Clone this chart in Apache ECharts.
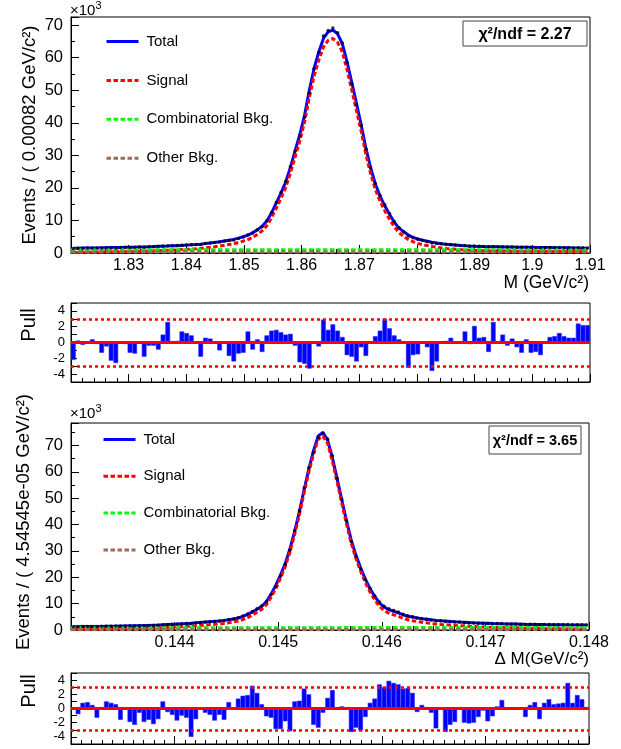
<!DOCTYPE html>
<html><head><meta charset="utf-8">
<script src="https://cdn.jsdelivr.net/npm/echarts@6/dist/echarts.min.js"></script>
<style>html,body{margin:0;padding:0;background:#fff}#main{width:621px;height:749px}</style>
</head><body><div id="main"></div>
<script>
// ---------- binning ----------
const M_LO = 1.82, M_HI = 1.91;
const D_LO = 0.143, D_HI = 0.148;
const N_BINS = 110;

// ---------- top panel: M (values in units of 10^3 events) ----------
const mTotal = [1.45,1.47,1.50,1.52,1.55,1.57,1.60,1.63,1.66,1.68,
 1.70,1.73,1.76,1.80,1.84,1.87,1.91,1.97,2.04,2.09,
 2.14,2.20,2.26,2.34,2.42,2.51,2.59,2.72,2.90,3.06,
 3.26,3.46,3.68,3.93,4.17,4.56,5.00,5.50,6.20,7.10,
 8.20,9.80,12.3,15.3,18.4,21.8,26.3,31.4,36.4,42.3,
 49.9,56.6,61.7,65.9,67.9,68.5,67.3,64.3,58.8,52.4,
 46.0,39.4,32.2,26.2,21.2,17.5,14.5,11.9,9.5,7.7,
 6.5,5.5,4.8,4.3,3.9,3.6,3.3,3.08,2.87,2.70,
 2.57,2.44,2.33,2.22,2.12,2.07,2.03,1.98,1.95,1.92,
 1.89,1.86,1.84,1.82,1.80,1.78,1.76,1.74,1.72,1.70,
 1.68,1.66,1.64,1.62,1.60,1.58,1.55,1.52,1.49,1.46];
const mData = [1.36,1.48,1.49,1.52,1.57,1.56,1.55,1.61,1.57,1.57,
 1.70,1.72,1.71,1.74,1.84,1.79,1.89,1.95,2.00,2.14,
 2.26,2.20,2.27,2.41,2.48,2.56,2.59,2.63,2.93,3.09,
 3.26,3.40,3.68,3.82,4.02,4.47,4.91,5.60,6.13,7.13,
 8.09,9.89,12.47,15.50,18.58,21.95,26.48,31.33,35.92,41.75,
 49.16,56.6,61.58,66.65,68.32,69.1,67.69,64.48,58.41,51.99,
 45.49,39.28,31.9,26.2,21.32,17.7,14.86,12.1,9.59,7.74,
 6.5,5.26,4.69,4.20,3.9,3.56,3.09,2.95,2.87,2.71,
 2.60,2.44,2.33,2.29,2.11,2.16,2.06,2.01,1.90,2.03,
 1.89,1.90,1.82,1.84,1.77,1.73,1.78,1.69,1.67,1.63,
 1.68,1.69,1.67,1.67,1.63,1.60,1.57,1.61,1.58,1.54];
const mSignal = [0.17,0.19,0.22,0.24,0.27,0.29,0.32,0.35,0.38,0.40,
 0.42,0.45,0.47,0.51,0.55,0.58,0.62,0.68,0.75,0.80,
 0.85,0.91,0.96,1.04,1.12,1.21,1.29,1.42,1.59,1.75,
 1.94,2.14,2.36,2.60,2.84,3.22,3.65,4.14,4.83,5.71,
 6.79,8.35,10.8,13.7,16.8,20.1,24.5,29.5,34.4,40.2,
 47.7,54.2,59.2,63.3,65.3,65.9,64.7,61.8,56.4,50.1,
 43.8,37.4,30.3,24.4,19.5,15.9,13.0,10.4,8.06,6.30,
 5.12,4.14,3.45,2.96,2.57,2.28,1.98,1.77,1.56,1.40,
 1.27,1.14,1.03,0.93,0.83,0.78,0.74,0.69,0.66,0.63,
 0.62,0.60,0.58,0.57,0.56,0.55,0.54,0.53,0.52,0.51,
 0.50,0.49,0.48,0.47,0.46,0.45,0.44,0.43,0.42,0.41];
const mBkgX = [1.82, 1.865, 1.91];
const mComb = [1.02, 1.00, 0.98];
const mOther = [0.30, 0.30, 0.30];
const mPull = [-2.2,0.25,-0.3,-0.1,0.4,-0.2,-1.3,-0.5,-2.3,-2.6,
 0.1,-0.2,-1.3,-1.4,0.1,-1.8,-0.4,-0.4,-0.9,1.0,
 2.6,0.1,0.2,1.4,1.2,0.9,0.1,-1.8,0.6,0.5,
 0.1,-1.0,0.1,-1.7,-2.4,-1.4,-1.3,1.4,-0.9,0.4,
 -1.2,0.9,1.5,1.6,1.3,1.0,1.1,-0.4,-2.5,-2.7,
 -3.3,0.1,-0.5,2.9,1.6,2.3,1.5,0.7,-1.6,-1.8,
 -2.4,-0.6,-1.7,0.1,0.8,1.5,3.0,1.8,0.9,0.4,
 0.1,-3.2,-1.6,-1.5,0.1,-0.6,-3.6,-2.4,0.1,0.2,
 0.6,0.1,-0.1,1.4,-0.2,2.1,0.6,0.7,-1.2,2.6,
 0.1,1.0,-0.4,0.5,-0.6,-1.3,0.4,-1.3,-1.2,-1.6,
 0.1,0.7,0.8,1.2,0.8,0.6,0.6,2.4,2.2,2.2];

// ---------- bottom panel: Delta M ----------
const dTotal = [1.25,1.27,1.29,1.31,1.33,1.35,1.37,1.40,1.43,1.46,
 1.50,1.53,1.57,1.61,1.65,1.70,1.75,1.81,1.87,1.95,
 2.05,2.15,2.25,2.37,2.48,2.60,2.73,2.88,3.02,3.17,
 3.30,3.45,3.65,3.90,4.20,4.55,5.15,5.90,6.80,7.90,
 9.0,10.8,13.6,17.0,20.9,25.2,30.8,37.5,44.9,53.2,
 61.0,68.0,73.6,74.9,72.0,65.4,57.5,49.4,41.5,34.2,
 28.4,23.6,19.3,15.7,12.7,10.3,8.7,7.7,7.1,6.5,
 5.8,5.2,4.9,4.6,4.3,4.1,3.85,3.65,3.5,3.38,
 3.25,3.12,3.0,2.9,2.8,2.72,2.65,2.58,2.52,2.46,
 2.41,2.36,2.32,2.28,2.24,2.2,2.16,2.13,2.1,2.07,
 2.04,2.02,2.0,1.98,1.96,1.94,1.92,1.91,1.9,1.89];
const dData = [1.25,1.24,1.32,1.34,1.35,1.30,1.38,1.44,1.46,1.48,
 1.44,1.53,1.50,1.52,1.63,1.62,1.68,1.72,1.81,1.99,
 2.03,2.11,2.17,2.32,2.42,2.40,2.65,2.88,2.99,3.12,
 3.20,3.40,3.55,3.96,4.20,4.64,5.28,6.05,7.06,8.10,
 9.06,10.69,13.45,16.62,20.48,24.91,30.24,37.69,45.13,53.85,
 61.49,67.4,72.87,74.74,72.4,66.07,57.52,49.47,41.52,33.59,
 27.94,23.12,19.13,15.8,12.86,10.64,8.98,8.04,7.4,6.78,
 6.01,5.41,5.05,4.57,4.33,4.11,3.81,3.48,3.5,3.19,
 3.12,3.01,3.0,2.79,2.69,2.62,2.59,2.57,2.43,2.41,
 2.42,2.42,2.31,2.28,2.24,2.2,2.10,2.15,2.14,2.00,
 2.08,2.08,2.03,2.01,2.00,2.10,1.96,1.99,1.96,1.90];
const dSignal = [0.25,0.27,0.28,0.30,0.31,0.33,0.34,0.37,0.39,0.42,
 0.45,0.48,0.51,0.55,0.58,0.63,0.67,0.73,0.78,0.86,
 0.95,1.05,1.14,1.26,1.36,1.48,1.60,1.75,1.88,2.03,
 2.15,2.30,2.49,2.74,3.03,3.38,3.97,4.72,5.61,6.71,
 7.8,9.6,12.4,15.8,19.7,24.0,29.6,36.3,43.7,52.0,
 59.8,66.7,72.3,73.6,70.7,64.1,56.2,48.1,40.2,32.9,
 27.1,22.3,18.0,14.4,11.4,9.0,7.37,6.37,5.76,5.16,
 4.45,3.85,3.54,3.24,2.93,2.73,2.47,2.27,2.11,1.99,
 1.85,1.72,1.59,1.49,1.38,1.30,1.22,1.15,1.08,1.02,
 0.96,0.91,0.86,0.82,0.77,0.73,0.68,0.65,0.61,0.58,
 0.54,0.52,0.49,0.47,0.44,0.42,0.39,0.38,0.36,0.35];
const dBkgX = [0.143, 0.1455, 0.148];
const dComb = [0.88, 0.90, 0.92];
const dOther = [0.10, 0.10, 0.10];
const dPull = [0.1,-0.8,0.8,0.9,0.5,-1.3,0.2,1.0,0.8,0.6,
 -1.6,0.1,-1.9,-2.3,-0.6,-1.9,-1.6,-2.2,-1.5,1.0,
 -0.5,-0.9,-1.7,-1.0,-1.3,-4.0,-1.5,0.1,-0.6,-0.9,
 -1.7,-0.9,-1.6,0.9,0.1,1.4,1.8,1.9,3.2,2.2,
 0.6,-1.1,-1.3,-2.9,-2.9,-1.8,-3.2,1.0,1.1,2.8,
 2.0,-2.3,-2.7,-0.6,1.5,2.6,0.1,0.3,0.1,-3.3,
 -2.7,-3.1,-1.2,0.8,1.4,3.4,3.0,3.9,3.6,3.4,
 2.8,2.9,2.2,-0.5,0.5,0.2,-0.6,-2.8,-0.1,-3.3,
 -2.3,-1.9,-0.1,-2.0,-2.1,-2.0,-1.2,-0.3,-1.8,-1.1,
 0.3,1.2,-0.2,0.1,0.1,-0.1,-1.2,0.5,0.9,-1.5,
 0.8,1.3,0.6,0.7,0.8,3.6,0.8,1.9,1.3,0.2];

const legendNames = ['Total', 'Signal', 'Combinatorial Bkg.', 'Other Bkg.'];
const chi2Top = '2.27', chi2Bottom = '3.65';

// ---------- helpers ----------
const FONT = "'Liberation Sans', Arial, Helvetica, sans-serif";
const mW = (M_HI - M_LO) / N_BINS, dW = (D_HI - D_LO) / N_BINS;
const mX = mTotal.map((_, i) => M_LO + (i + 0.5) * mW);
const dX = dTotal.map((_, i) => D_LO + (i + 0.5) * dW);
const pairs = (xs, ys) => xs.map((x, i) => [x, ys[i]]);
const binIdx = mPull.map((_, i) => i);

const axisLine = {show: true, onZero: false, lineStyle: {color: '#000', width: 1}};
const tick = {show: true, inside: true, length: 8, lineStyle: {color: '#000', width: 1}};
const minor = n => ({show: true, splitNumber: n, length: 4, lineStyle: {color: '#000', width: 1}});
const lbl = (size, extra) => Object.assign({color: '#000', fontFamily: FONT, fontSize: size}, extra || {});

function xVal(grid, lo, hi, step, nMinor, labels) {
  return {gridIndex: grid, type: 'value', min: lo, max: hi, interval: step,
    axisLine, axisTick: tick, minorTick: minor(nMinor),
    splitLine: {show: false}, minorSplitLine: {show: false},
    axisLabel: labels ? lbl(16, {margin: 5, showMinLabel: false, showMaxLabel: true}) : {show: false}};
}
function yMain(grid, max) {
  return {gridIndex: grid, type: 'value', min: 0, max: max, interval: 10,
    axisLine, axisTick: tick, minorTick: minor(2),
    splitLine: {show: false}, minorSplitLine: {show: false},
    axisLabel: lbl(16.5, {margin: 8, showMaxLabel: false,
      formatter: v => (Math.abs(v % 10) < 1e-9 ? String(v) : '')})};
}
function yPull(grid) {
  return {gridIndex: grid, type: 'value', min: -5, max: 5, interval: 1,
    axisLine, axisTick: Object.assign({}, tick, {length: 6}),
    splitLine: {show: false},
    axisLabel: lbl(13, {margin: 6, formatter: v => (Math.round(v) % 2 === 0 ? String(Math.round(v)) : '')})};
}
const gridBox = (left, top, width, height) => ({left, top, width, height, show: true,
  borderColor: '#000', borderWidth: 1, backgroundColor: '#fff', containLabel: false, outerBoundsMode: 'none'});

function curveSeries(xi, yi, name, data, color, dashed) {
  return {type: 'line', name, xAxisIndex: xi, yAxisIndex: yi, data, symbol: 'none', showSymbol: false,
    clip: true, z: 3, silent: true,
    lineStyle: {color, width: 3, type: dashed ? [4.5, 2.5] : 'solid'}, itemStyle: {color}};
}
function dataSeries(xi, yi, data) {
  return {type: 'scatter', name: 'Data', xAxisIndex: xi, yAxisIndex: yi, data, symbol: 'circle',
    symbolSize: 3.5, itemStyle: {color: '#000'}, z: 5, silent: true, clip: true};
}
function pullSeries(xi, yi, data) {
  return {type: 'bar', name: 'Pull', xAxisIndex: xi, yAxisIndex: yi, data,
    barWidth: '100%', barCategoryGap: '0%', barGap: '0%',
    itemStyle: {color: '#0000ff', borderColor: '#2a2aff', borderWidth: 0.6}, silent: true, z: 2,
    markLine: {silent: true, symbol: ['none', 'none'], label: {show: false}, animation: false,
      data: [
        {yAxis: 0, lineStyle: {color: '#ff0000', width: 3, type: 'solid'}},
        {yAxis: 3, lineStyle: {color: '#ff0000', width: 2.5, type: [3, 3]}},
        {yAxis: -3, lineStyle: {color: '#ff0000', width: 2.5, type: [3, 3]}}
      ]}};
}
function legendAt(left, top, gap) {
  return {data: legendNames, left, top, padding: 0, orient: 'vertical', itemGap: gap, itemWidth: 32, itemHeight: 14,
    selectedMode: false, itemStyle: {opacity: 0, borderWidth: 0}, lineStyle: {width: 3},
    textStyle: {color: '#000', fontFamily: FONT, fontSize: 15, padding: [0, 0, 0, 3]}};
}
function txt(x, y, text, size, opts) {
  opts = opts || {};
  return {type: 'text', x, y, rotation: opts.rot || 0, z: 100, silent: true,
    style: {text, fill: '#000', font: (opts.bold ? 'bold ' : '') + size + 'px ' + FONT,
      textAlign: opts.align || 'left', textVerticalAlign: opts.valign || 'middle'}};
}
function chiBox(x, y, w, h, text, size) {
  return {type: 'group', z: 100, silent: true, children: [
    {type: 'rect', shape: {x, y, width: w, height: h}, style: {fill: '#fff', stroke: '#444', lineWidth: 1}},
    {type: 'text', x: x + w / 2, y: y + h / 2 + 1, style: {text, fill: '#000', font: 'bold ' + size + 'px ' + FONT,
      textAlign: 'center', textVerticalAlign: 'middle'}}
  ]};
}

const option = {
  animation: false,
  backgroundColor: '#fff',
  grid: [
    gridBox(71, 17, 519, 236),
    gridBox(71, 303, 519, 79),
    gridBox(71, 423, 518, 207),
    gridBox(71, 673, 518, 71)
  ],
  xAxis: [
    xVal(0, M_LO, M_HI, 0.01, 5, true),
    xVal(1, M_LO, M_HI, 0.01, 5, false),
    {gridIndex: 1, type: 'category', data: binIdx, show: false, boundaryGap: true},
    xVal(2, D_LO, D_HI, 0.001, 10, true),
    xVal(3, D_LO, D_HI, 0.001, 10, false),
    {gridIndex: 3, type: 'category', data: binIdx, show: false, boundaryGap: true}
  ],
  yAxis: [yMain(0, 72.5), yPull(1), yMain(2, 78.5), yPull(3)],
  legend: [legendAt(105, 34, 23.9), legendAt(102, 432, 21.8)],
  series: [
    curveSeries(0, 0, 'Total', pairs(mX, mTotal), '#0000ff', false),
    curveSeries(0, 0, 'Signal', pairs(mX, mSignal), '#ff0000', true),
    curveSeries(0, 0, 'Combinatorial Bkg.', pairs(mBkgX, mComb), '#00ff00', true),
    curveSeries(0, 0, 'Other Bkg.', pairs(mBkgX, mOther), '#9c6b5a', true),
    dataSeries(0, 0, pairs(mX, mData)),
    pullSeries(2, 1, mPull),
    curveSeries(3, 2, 'Total', pairs(dX, dTotal), '#0000ff', false),
    curveSeries(3, 2, 'Signal', pairs(dX, dSignal), '#ff0000', true),
    curveSeries(3, 2, 'Combinatorial Bkg.', pairs(dBkgX, dComb), '#00ff00', true),
    curveSeries(3, 2, 'Other Bkg.', pairs(dBkgX, dOther), '#9c6b5a', true),
    dataSeries(3, 2, pairs(dX, dData)),
    pullSeries(5, 3, dPull)
  ],
  graphic: [
    txt(30, 135, 'Events / ( 0.00082 GeV/c²)', 18.5, {rot: Math.PI / 2, align: 'center'}),
    txt(24, 522, 'Events / ( 4.54545e-05 GeV/c²)', 18.5, {rot: Math.PI / 2, align: 'center'}),
    txt(29, 325, 'Pull', 20, {rot: Math.PI / 2, align: 'center'}),
    txt(29, 691, 'Pull', 20, {rot: Math.PI / 2, align: 'center'}),
    txt(70, 11, '×10', 15),
    txt(95.5, 6, '3', 11),
    txt(70, 414, '×10', 15),
    txt(95.5, 409, '3', 11),
    txt(589, 283, 'M (GeV/c²)', 17.5, {align: 'right'}),
    txt(589, 659, 'Δ M(GeV/c²)', 17, {align: 'right'}),
    chiBox(463, 21, 124, 25, 'χ²/ndf = ' + chi2Top, 16),
    chiBox(489, 426, 92, 28, 'χ²/ndf = ' + chi2Bottom, 14.5)
  ]
};

const chart = echarts.init(document.getElementById('main'));
chart.setOption(option);
</script>
</body></html>
